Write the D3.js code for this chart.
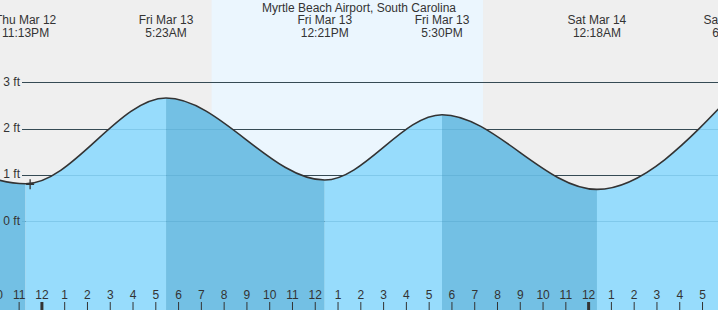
<!DOCTYPE html>
<html><head><meta charset="utf-8">
<script src="https://cdn.jsdelivr.net/npm/d3@7"></script>
<style>
html,body{margin:0;padding:0;background:#fff;}
svg{display:block;font-family:"Liberation Sans",Arial,sans-serif;}
</style></head>
<body>
<svg id="chart" width="718" height="310"></svg>
<script>
// ---- data ----
const title = "Myrtle Beach Airport, South Carolina";
const extremeTimes = ["2026-03-12T17:05Z","2026-03-12T23:13Z","2026-03-13T05:23Z","2026-03-13T12:21Z","2026-03-13T17:30Z","2026-03-14T00:18Z","2026-03-14T06:16Z"];
const extremeHeights = [2.3, 0.81, 2.66, 0.89, 2.30, 0.69, 2.75];
const labelDates = ["", "Thu Mar 12", "Fri Mar 13", "Fri Mar 13", "Fri Mar 13", "Sat Mar 14", "Sat Mar 14"];
const labelTimes = ["", "11:13PM", "5:23AM", "12:21PM", "5:30PM", "12:18AM", "6:16AM"];
const sunTimes = ["2026-03-13T07:23Z", "2026-03-13T19:18Z"]; // sunrise, sunset
const yTicks = [0, 1, 2, 3];
const nowTime = "2026-03-12T23:25Z";
const nowHeight = 0.80;
const domainTimes = ["2026-03-12T22:05:40Z", "2026-03-14T05:36:50Z"];
const hourTickRange = ["2026-03-12T22:00Z", "2026-03-14T06:00Z"];

// ---- layout ----
const W = 718, H = 310;
const svg = d3.select("#chart");
const parse = s => new Date(s);
const x = d3.scaleUtc().domain(domainTimes.map(parse)).range([0, W]);
const y = d3.scaleLinear().domain([0, 3]).range([221.3, 82.3]);

const pts = extremeTimes.map((t, i) => ({t: parse(t), h: extremeHeights[i]}));

// backgrounds
svg.append("rect").attr("x", 0).attr("y", 0).attr("width", W).attr("height", H).attr("fill", "#efefef");
svg.append("rect").attr("x", x(parse(sunTimes[0]))).attr("y", 0)
  .attr("width", x(parse(sunTimes[1])) - x(parse(sunTimes[0]))).attr("height", H).attr("fill", "#ebf6fe");

// grid lines (under fill)
svg.selectAll("line.grid").data(yTicks).enter().append("line")
  .attr("x1", 22).attr("x2", W).attr("y1", d => Math.round(y(d)) + 0.5).attr("y2", d => Math.round(y(d)) + 0.5)
  .attr("stroke", "#333").attr("stroke-width", 1);

// area fill, rising light / falling dark
const area = d3.area().x(d => x(d.t)).y0(H).y1(d => y(d.h)).curve(d3.curveMonotoneX);
const defs = svg.append("defs");
for (let i = 0; i < pts.length - 1; i++) {
  const x0 = x(pts[i].t), x1 = x(pts[i + 1].t);
  defs.append("clipPath").attr("id", "seg" + i).append("rect")
    .attr("x", x0).attr("y", 0).attr("width", x1 - x0).attr("height", H);
  const falling = pts[i + 1].h < pts[i].h;
  svg.append("path").datum(pts).attr("d", area)
    .attr("clip-path", "url(#seg" + i + ")")
    .attr("fill", falling ? "#73c0e4" : "#97dcfc");
}

// faint grid over fill
svg.selectAll("line.grid2").data(yTicks).enter().append("line")
  .attr("x1", 22).attr("x2", W).attr("y1", d => Math.round(y(d)) + 0.5).attr("y2", d => Math.round(y(d)) + 0.5)
  .attr("stroke", "#3c8fb8").attr("stroke-opacity", 0.25).attr("stroke-width", 1);

// curve
const line = d3.line().x(d => x(d.t)).y(d => y(d.h)).curve(d3.curveMonotoneX);
svg.append("path").datum(pts).attr("d", line).attr("fill", "none")
  .attr("stroke", "#333").attr("stroke-width", 1.6);

// now marker
const nx = x(parse(nowTime)), ny = y(nowHeight);
svg.append("path").attr("d", `M${nx - 4},${ny}H${nx + 4}M${nx},${ny - 5}V${ny + 5}`)
  .attr("stroke", "#333").attr("stroke-width", 1.3).attr("fill", "none");

// y labels
svg.selectAll("text.ylab").data(yTicks).enter().append("text")
  .attr("x", 20).attr("y", d => y(d) - 1).attr("dy", "0.35em")
  .attr("text-anchor", "end").attr("font-size", 12).attr("fill", "#333")
  .text(d => d + " ft");

// title
svg.append("text").attr("x", 359).attr("y", 12).attr("text-anchor", "middle")
  .attr("font-size", 12).attr("fill", "#333").text(title);

// event labels
pts.forEach((p, i) => {
  if (!labelDates[i]) return;
  const g = svg.append("text").attr("text-anchor", "middle").attr("font-size", 12).attr("fill", "#333");
  g.append("tspan").attr("x", x(p.t)).attr("y", 24).text(labelDates[i]);
  g.append("tspan").attr("x", x(p.t)).attr("y", 36.5).text(labelTimes[i]);
});

// bottom hour axis
const hourTicks = d3.utcHour.range(parse(hourTickRange[0]), parse(hourTickRange[1]));
const axis = d3.axisTop(x).tickValues(hourTicks).tickFormat(d3.utcFormat("%-I"))
  .tickSize(8).tickPadding(3);
const ax = svg.append("g").attr("transform", `translate(-2,${H})`).call(axis);
ax.select(".domain").remove();
ax.selectAll("line").attr("stroke", "#333")
  .attr("stroke-width", d => d.getUTCHours() === 0 ? 3 : 1);
ax.selectAll("text").attr("font-size", 12).attr("fill", "#333")
  .attr("font-family", "Liberation Sans, Arial, sans-serif");
</script>
</body></html>
